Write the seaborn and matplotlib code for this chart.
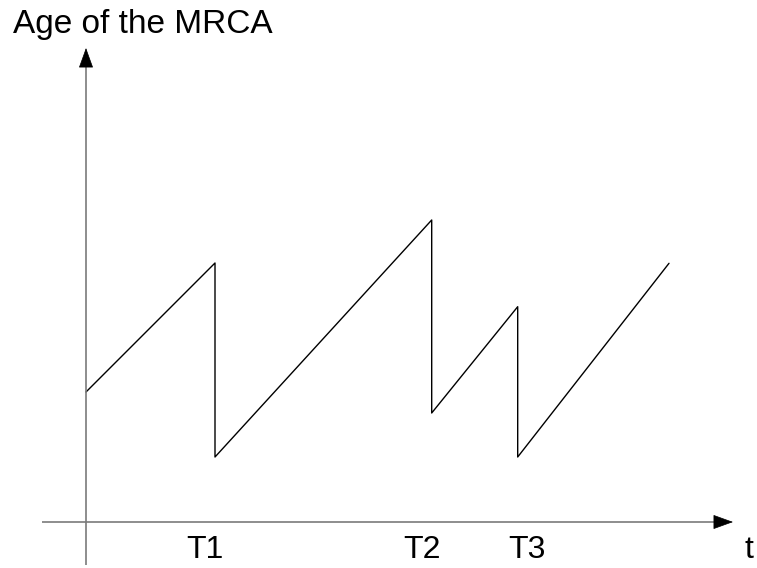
import matplotlib
matplotlib.use("Agg")
import matplotlib.pyplot as plt
import seaborn as sns
import pandas as pd

# Data (t in arbitrary units, age of MRCA in arbitrary units)
t_values = [0, 129, 129, 345.7, 345.7, 431.7, 431.7, 583]
age_values = [130, 259, 65, 302, 109, 215.3, 65, 258.7]
tick_positions = [119, 336, 441]
tick_labels = ["T1", "T2", "T3"]
y_label = "Age of the MRCA"
x_label = "t"

sns.set_theme(style="white")
plt.rcParams["font.family"] = ["Liberation Sans", "DejaVu Sans"]

fig = plt.figure(figsize=(7.57, 5.68), dpi=100)
ax = fig.add_axes([0, 0, 1, 1])
ax.set_xlim(-86, 757 - 86)
ax.set_ylim(522 - 568, 522)
for s in ax.spines.values():
    s.set_visible(False)
ax.set_xticks([])
ax.set_yticks([])
ax.set_facecolor("white")

df = pd.DataFrame({"t": t_values, "age": age_values})
sns.lineplot(data=df, x="t", y="age", sort=False, estimator=None,
             color="black", linewidth=1.0, ax=ax)
ax.set_xlabel("")
ax.set_ylabel("")

axis_col = "#7a7a7a"
# x axis
ax.plot([-44, 629], [0, 0], color=axis_col, linewidth=1.2, solid_capstyle="butt")
ax.annotate("", xy=(647, 0), xytext=(629, 0),
            arrowprops=dict(arrowstyle="-|>,head_length=13,head_width=4.7",
                            mutation_scale=1, color="black", lw=0.5,
                            shrinkA=0, shrinkB=0))
# y axis
ax.plot([0, 0], [-43, 456], color=axis_col, linewidth=1.2, solid_capstyle="butt")
ax.annotate("", xy=(0, 474), xytext=(0, 456),
            arrowprops=dict(arrowstyle="-|>,head_length=13,head_width=4.7",
                            mutation_scale=1, color="black", lw=0.5,
                            shrinkA=0, shrinkB=0))

fs = 23
for pos, lab in zip(tick_positions, tick_labels):
    ax.text(pos, -36, lab, ha="center", va="baseline", fontsize=fs, color="black")
ax.text(663, -36, x_label, ha="center", va="baseline", fontsize=fs, color="black")
ax.text(-73, 489, y_label, ha="left", va="baseline", fontsize=24, color="black")

fig.savefig("out.png", dpi=100, facecolor="white")
